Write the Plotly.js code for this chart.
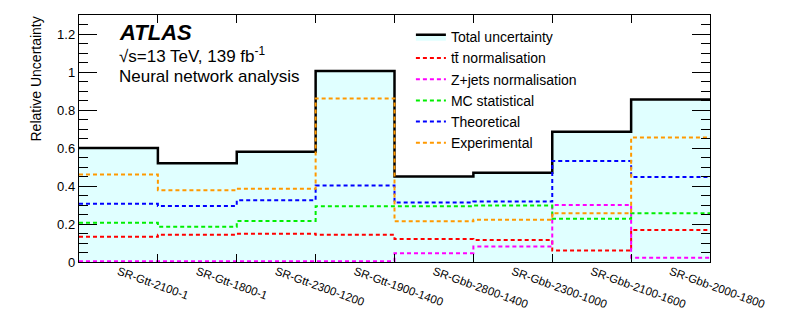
<!DOCTYPE html>
<html>
<head>
<meta charset="utf-8">
<script src="https://cdn.plot.ly/plotly-3.0.1.min.js"></script>
<style>html,body{margin:0;padding:0;background:#fff;}#chart{width:789px;height:312px;}</style>
</head>
<body>
<div id="chart"></div>
<script>
// Signal regions (bins)
const regions = ["SR-Gtt-2100-1","SR-Gtt-1800-1","SR-Gtt-2300-1200","SR-Gtt-1900-1400","SR-Gbb-2800-1400","SR-Gbb-2300-1000","SR-Gbb-2100-1600","SR-Gbb-2000-1800"];
// Relative uncertainties per region
const totalUnc   = [0.600, 0.520, 0.580, 1.005, 0.450, 0.470, 0.685, 0.855];
const ttbarNorm  = [0.133, 0.144, 0.149, 0.143, 0.121, 0.116, 0.060, 0.169];
const zjetsNorm  = [0.004, 0.004, 0.004, 0.004, 0.046, 0.081, 0.300, 0.023];
const mcStat     = [0.206, 0.186, 0.216, 0.293, 0.293, 0.297, 0.228, 0.257];
const theoretical= [0.306, 0.295, 0.325, 0.402, 0.313, 0.318, 0.531, 0.448];
const experimental=[0.460, 0.378, 0.386, 0.861, 0.214, 0.223, 0.257, 0.655];
const yTicks = [0, 0.2, 0.4, 0.6, 0.8, 1, 1.2];

const edges = regions.map((_, i) => i).concat([regions.length]);
const centers = regions.map((_, i) => i + 0.5);
const step = v => v.concat([v[v.length - 1]]);

const FONT = "Liberation Sans, Arial, Helvetica, sans-serif";
const dash = "4px,3px";

function dashed(name, vals, color) {
  return {
    type: "scatter", mode: "lines", name: name,
    x: edges, y: step(vals),
    line: {shape: "hv", color: color, width: 2, dash: dash},
    hoverinfo: "skip"
  };
}

const traces = [
  {
    type: "scatter", mode: "lines", name: "Total uncertainty",
    x: edges, y: step(totalUnc),
    line: {shape: "hv", color: "#000000", width: 2.5},
    fill: "tozeroy", fillcolor: "#e0ffff",
    hoverinfo: "skip"
  },
  dashed("tt\u0304 normalisation", ttbarNorm, "#ff0000"),
  dashed("Z+jets normalisation", zjetsNorm, "#ff00ff"),
  dashed("MC statistical", mcStat, "#00ee00"),
  dashed("Theoretical", theoretical, "#0000ff"),
  dashed("Experimental", experimental, "#ff9900"),
  {
    type: "scatter", mode: "lines", x: centers, y: centers.map(() => 0),
    xaxis: "x2", showlegend: false, hoverinfo: "skip", line: {width: 0, color: "rgba(0,0,0,0)"}
  }
];

const layout = {
  width: 789, height: 312,
  margin: {l: 79, r: 79, t: 15, b: 50},
  paper_bgcolor: "#ffffff", plot_bgcolor: "#ffffff",
  font: {family: FONT, color: "#000000"},
  showlegend: true,
  legend: {
    x: 0.526, y: 0.975, xanchor: "left", yanchor: "top",
    bgcolor: "rgba(0,0,0,0)", borderwidth: 0,
    font: {family: FONT, size: 14, color: "#000000"},
    traceorder: "normal"
  },
  xaxis: {
    range: [0, regions.length], showgrid: false, zeroline: false,
    tickmode: "array", tickvals: edges, showticklabels: false,
    ticks: "inside", ticklen: 8, tickwidth: 1, tickcolor: "#000000",
    showline: true, linecolor: "#000000", linewidth: 1.2, mirror: "ticks"
  },
  xaxis2: {
    overlaying: "x", side: "bottom", range: [0, regions.length],
    showgrid: false, zeroline: false, showline: false,
    tickmode: "array", tickvals: centers, ticktext: regions,
    ticks: "", tickangle: 20,
    tickfont: {family: FONT, size: 11.5, color: "#000000"}
  },
  yaxis: {
    range: [0, 1.3], showgrid: false, zeroline: false,
    tickmode: "array", tickvals: yTicks,
    ticks: "inside", ticklen: 18, tickwidth: 1, tickcolor: "#000000",
    minor: {dtick: 0.05, ticks: "inside", ticklen: 9, tickwidth: 1, tickcolor: "#000000", showgrid: false},
    tickfont: {family: FONT, size: 13, color: "#000000"},
    showline: true, linecolor: "#000000", linewidth: 1.2, mirror: "ticks"
  },
  annotations: [
    {xref: "paper", yref: "paper", x: -0.0697, y: 1.0, xanchor: "center", yanchor: "top",
     text: "Relative Uncertainty", textangle: -90, showarrow: false,
     font: {family: FONT, size: 14, color: "#000000"}},
    {xref: "paper", yref: "paper", x: 0.061, y: 0.931, xanchor: "left", yanchor: "middle",
     text: "<b><i>ATLAS</i></b>", showarrow: false,
     font: {family: FONT, size: 22, color: "#000000"}},
    {xref: "paper", yref: "paper", x: 0.061, y: 0.838, xanchor: "left", yanchor: "middle",
     text: "\u221As=13 TeV, 139 fb<sup>-1</sup>", showarrow: false,
     font: {family: FONT, size: 17, color: "#000000"}},
    {xref: "paper", yref: "paper", x: 0.061, y: 0.751, xanchor: "left", yanchor: "middle",
     text: "Neural network analysis", showarrow: false,
     font: {family: FONT, size: 17, color: "#000000"}}
  ]
};

Plotly.newPlot("chart", traces, layout, {displayModeBar: false, staticPlot: true});
</script>
</body>
</html>
